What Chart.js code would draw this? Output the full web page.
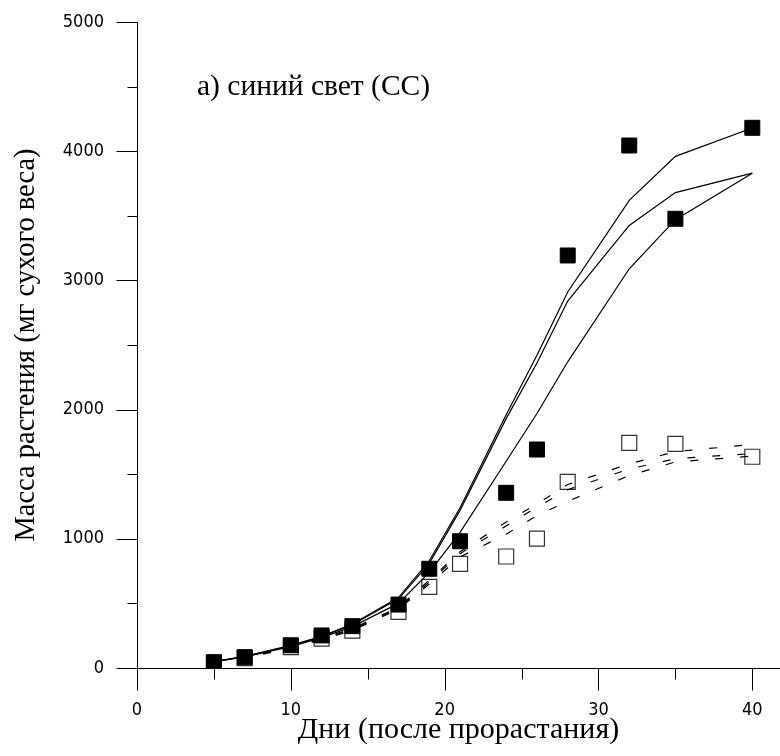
<!DOCTYPE html>
<html lang="ru">
<head>
<meta charset="utf-8">
<title>Масса растения — синий свет</title>
<script src="https://cdn.jsdelivr.net/npm/chart.js@4.4.1/dist/chart.umd.min.js"></script>
<style>
  html, body { margin: 0; padding: 0; background: #fff; }
  #contenedor { width: 780px; height: 756px; }
</style>
</head>
<body>
<div id="contenedor"><canvas id="grafico" width="780" height="756"></canvas></div>
<script>
// Días de medición (después de la germinación)
const dias = [5, 7, 10, 12, 14, 17, 19, 21, 24, 26, 28, 32, 35, 40];

// Masa medida: cuadros negros y cuadros vacíos
const masaLlenos = [45, 84, 176, 252, 324, 491, 768, 981, 1356, 1691, 3193, 4044, 3477, 4181];
const masaVacios = [40, 77, 162, 228, 290, 435, 628, 806, 863, 1002, 1441, 1743, 1735, 1635];

// Curvas del modelo (líneas continuas)
const curvaA = [50, 90, 175, 245, 340, 545, 830, 1240, 1960, 2420, 2910, 3620, 3960, 4180];
const curvaB = [50, 88, 172, 242, 335, 535, 810, 1220, 1930, 2360, 2840, 3425, 3680, 3830];
const curvaC = [48, 85, 165, 235, 320, 500, 740, 1050, 1600, 1970, 2370, 3090, 3470, 3830];

// Curvas del modelo (líneas discontinuas)
const curvaD1 = [45, 80, 165, 230, 305, 470, 680, 900, 1130, 1270, 1420, 1580, 1675, 1730];
const curvaD2 = [44, 78, 160, 225, 298, 462, 665, 885, 1100, 1245, 1380, 1540, 1620, 1660];
const curvaD3 = [42, 75, 155, 218, 290, 455, 650, 860, 1035, 1180, 1290, 1490, 1595, 1640];

// Marcas de los ejes
const ticksX = [0, 10, 20, 30, 40];
const ticksXMenores = [5, 15, 25, 35];
const ticksY = [0, 1000, 2000, 3000, 4000, 5000];
const ticksYMenores = [500, 1500, 2500, 3500, 4500];

const fuenteNumeros = '"DejaVu Sans Condensed", "DejaVu Sans", sans-serif';
const fuenteTextos = '"Liberation Serif", "Times New Roman", serif';

function puntos(valores) {
    return dias.map((d, i) => ({ x: d, y: valores[i] }));
}

function linea(valores, discontinua) {
    return {
        data: puntos(valores),
        borderColor: '#000',
        borderWidth: 1.2,
        borderDash: discontinua ? [8, 17] : [],
        pointRadius: 0,
        tension: 0,
        fill: false,
        order: discontinua ? 3 : 1
    };
}

// Dibuja las marcas largas y cortas de ambos ejes y el rótulo del panel
const marcasEjes = {
    id: 'marcasEjes',
    afterDraw(chart) {
        const ctx = chart.ctx;
        const x = chart.scales.x;
        const y = chart.scales.y;
        const base = Math.round(y.getPixelForValue(0)) + 0.5;
        const izq = Math.round(x.getPixelForValue(0)) + 0.5;

        ctx.save();
        ctx.strokeStyle = '#000';
        ctx.lineWidth = 1;
        ctx.beginPath();
        ticksX.forEach(v => {
            const px = Math.round(x.getPixelForValue(v)) + 0.5;
            ctx.moveTo(px, base);
            ctx.lineTo(px, base + 22);
        });
        ticksXMenores.forEach(v => {
            const px = Math.round(x.getPixelForValue(v)) + 0.5;
            ctx.moveTo(px, base);
            ctx.lineTo(px, base + 11);
        });
        ticksY.forEach(v => {
            const py = Math.round(y.getPixelForValue(v)) + 0.5;
            ctx.moveTo(izq, py);
            ctx.lineTo(izq - 21, py);
        });
        ticksYMenores.forEach(v => {
            const py = Math.round(y.getPixelForValue(v)) + 0.5;
            ctx.moveTo(izq, py);
            ctx.lineTo(izq - 10, py);
        });
        ctx.stroke();

        // rótulo del panel
        ctx.fillStyle = '#000';
        ctx.font = '29.5px ' + fuenteTextos;
        ctx.textAlign = 'left';
        ctx.textBaseline = 'alphabetic';
        ctx.fillText('а) синий свет (СС)', chart.chartArea.left + 60, chart.chartArea.top + 73);
        ctx.restore();
    }
};

const ctx = document.getElementById('grafico');

new Chart(ctx, {
    type: 'line',
    data: {
        datasets: [
            // cuadros vacíos al fondo
            {
                data: puntos(masaVacios),
                showLine: false,
                pointStyle: 'rect',
                pointRadius: 10.6,
                pointBackgroundColor: '#fff',
                pointBorderColor: '#333',
                pointBorderWidth: 1.2,
                order: 4
            },
            linea(curvaD1, true),
            linea(curvaD2, true),
            linea(curvaD3, true),
            // cuadros negros
            {
                data: puntos(masaLlenos),
                showLine: false,
                pointStyle: 'rect',
                pointRadius: 10.6,
                pointBackgroundColor: '#000',
                pointBorderColor: '#000',
                pointBorderWidth: 1,
                order: 2
            },
            linea(curvaA, false),
            linea(curvaB, false),
            linea(curvaC, false)
        ]
    },
    options: {
        responsive: false,
        animation: false,
        layout: {
            autoPadding: false,
            padding: { top: 22, right: 0, bottom: 0, left: 0 }
        },
        plugins: {
            legend: { display: false },
            tooltip: { enabled: false }
        },
        scales: {
            x: {
                type: 'linear',
                min: 0,
                max: 41.8,
                afterBuildTicks: s => { s.ticks = ticksX.map(v => ({ value: v })); },
                afterFit: s => {
                    s.height = 88;
                    s.paddingLeft = 0;
                    s.paddingRight = 0;
                },
                // marcas invisibles: sólo separan los números del eje
                grid: {
                    display: true,
                    drawOnChartArea: false,
                    drawTicks: true,
                    tickLength: 30,
                    color: 'rgba(0,0,0,0)'
                },
                border: { display: true, color: '#000', width: 1 },
                ticks: {
                    padding: 2,
                    color: '#000',
                    maxRotation: 0,
                    autoSkip: false,
                    callback: v => String(v),
                    font: { family: fuenteNumeros, size: 18 }
                },
                title: {
                    display: true,
                    text: 'Дни (после прорастания)',
                    color: '#000',
                    font: { family: fuenteTextos, size: 30 },
                    padding: { top: 0, bottom: 8 }
                }
            },
            y: {
                type: 'linear',
                min: 0,
                max: 5000,
                afterBuildTicks: s => { s.ticks = ticksY.map(v => ({ value: v })); },
                afterFit: s => {
                    s.width = 137;
                    s.paddingTop = 0;
                    s.paddingBottom = 0;
                },
                grid: { display: false, drawTicks: false },
                border: { display: true, color: '#000', width: 1 },
                ticks: {
                    padding: 33,
                    color: '#000',
                    callback: v => String(v),
                    font: { family: fuenteNumeros, size: 18 }
                },
                title: {
                    display: true,
                    text: 'Масса растения (мг сухого веса)',
                    color: '#000',
                    font: { family: fuenteTextos, size: 28.5 },
                    padding: { top: 9, bottom: 0 }
                }
            }
        }
    },
    plugins: [marcasEjes]
});
</script>
</body>
</html>
